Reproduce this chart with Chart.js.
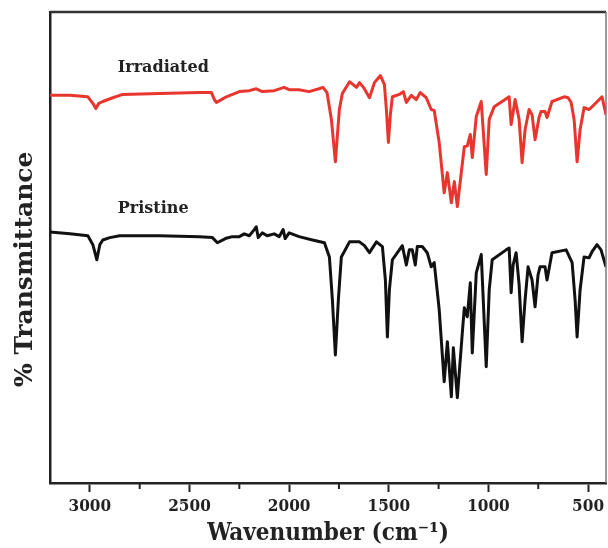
<!DOCTYPE html>
<html>
<head>
<meta charset="utf-8">
<script src="https://cdn.jsdelivr.net/npm/chart.js@4"></script>
<style>
  body { margin: 0; background: #fff; }
  #wrap { width: 608px; height: 548px; }
</style>
</head>
<body>
<div id="wrap"><canvas id="myChart" width="608" height="548"></canvas></div>
<script>
'use strict';

// wavenumbers (cm-1) and % transmittance
const irrWave = [3200, 3100, 3010, 2985, 2970, 2955, 2935, 2885, 2835, 2650, 2450, 2390, 2375, 2365, 2340, 2315,
  2250, 2200, 2165, 2135, 2075, 2025, 2000, 1950, 1900, 1850, 1830, 1810, 1788, 1768, 1748, 1733,
  1697, 1662, 1647, 1627, 1597, 1572, 1542, 1522, 1512, 1502, 1492, 1482, 1447, 1427, 1412, 1387,
  1362, 1342, 1312, 1287, 1272, 1247, 1222, 1206, 1186, 1171, 1156, 1121, 1106, 1091, 1081, 1061,
  1036, 1011, 996, 971, 911, 896, 886, 866, 846, 831, 816, 796, 781, 766, 746, 736,
  716, 706, 681, 620, 600, 585, 570, 555, 540, 520, 495, 470, 430, 410];
const irrT = [82.3, 82.3, 82.0, 80.6, 79.5, 80.6, 81.0, 81.8, 82.5, 82.7, 82.9, 82.9, 81.4, 80.8, 81.4, 82.0,
  83.1, 83.3, 83.7, 83.1, 83.3, 84.0, 83.5, 83.5, 83.1, 83.7, 84.0, 82.9, 77.2, 68.2, 79.3, 82.7,
  85.2, 84.0, 85.0, 84.0, 81.8, 85.0, 86.5, 84.6, 79.3, 72.3, 78.2, 82.0, 82.5, 83.1, 80.8, 82.3,
  81.4, 82.9, 81.8, 79.3, 79.1, 72.3, 61.6, 65.9, 59.5, 64.0, 58.7, 71.4, 71.6, 74.0, 69.1, 77.8,
  81.0, 65.5, 77.2, 79.9, 81.6, 82.0, 76.1, 81.4, 77.2, 68.0, 75.0, 79.3, 78.2, 72.9, 77.6, 78.9,
  78.9, 77.6, 81.0, 82.0, 81.8, 80.8, 77.2, 68.2, 75.0, 79.7, 79.3, 80.3, 82.0, 78.2];

const priWave = [3200, 3100, 3010, 2985, 2965, 2950, 2935, 2900, 2850, 2650, 2450, 2385, 2360, 2320, 2285, 2250,
  2225, 2200, 2175, 2165, 2155, 2135, 2110, 2075, 2050, 2030, 2020, 2000, 1950, 1883, 1823, 1798,
  1783, 1768, 1753, 1738, 1697, 1647, 1622, 1597, 1562, 1532, 1517, 1507, 1497, 1482, 1447, 1432,
  1412, 1397, 1382, 1367, 1357, 1332, 1307, 1287, 1272, 1247, 1222, 1206, 1186, 1176, 1156, 1131,
  1121, 1106, 1091, 1081, 1061, 1036, 1011, 996, 981, 911, 896, 886, 876, 861, 846, 831,
  816, 801, 781, 766, 751, 741, 716, 706, 681, 610, 580, 565, 555, 540, 520, 495,
  480, 455, 435, 410];
const priT = [53.3, 52.9, 52.5, 50.6, 47.4, 50.6, 51.6, 52.1, 52.5, 52.5, 52.3, 52.1, 51.0, 51.9, 52.3, 52.3,
  52.9, 52.5, 53.8, 54.4, 52.1, 53.1, 52.5, 52.9, 52.3, 53.8, 51.9, 53.1, 52.3, 51.6, 51.0, 48.0,
  38.9, 27.2, 38.9, 48.0, 51.2, 51.2, 50.4, 48.9, 51.2, 50.2, 43.1, 31.0, 41.0, 47.4, 49.5, 50.4,
  46.3, 49.5, 49.5, 46.3, 50.2, 50.2, 48.9, 45.9, 46.8, 36.8, 21.5, 30.0, 18.3, 28.7, 18.1, 31.9,
  37.2, 35.3, 42.5, 27.6, 44.6, 48.5, 24.7, 41.0, 47.4, 49.5, 49.9, 40.4, 46.3, 48.9, 42.1, 30.0,
  38.9, 45.9, 43.1, 37.4, 44.2, 45.9, 45.9, 43.1, 48.9, 49.5, 46.8, 38.9, 31.0, 41.0, 48.0, 47.8,
  49.1, 50.6, 49.5, 45.9];

// x ticks every 250, labels only on the 500s
const xTickValues = [500, 750, 1000, 1250, 1500, 1750, 2000, 2250, 2500, 2750, 3000];
const xLabelEvery = 500;

// curve labels: [text, wavenumber, transmittance]
const curveLabels = [['Irradiated', 2860, 88.2], ['Pristine', 2860, 58.2]];

const serif = '"DejaVu Serif", serif';
const serifNarrow = '"DejaVu Serif Condensed", "DejaVu Serif", serif';

const toPoints = (xs, ys) => xs.map((x, i) => ({x: x, y: ys[i]}));
const isMajor = v => v % xLabelEvery === 0;

// box on top/right, short minor ticks and curve names
const extras = {
  id: 'extras',
  afterDraw(chart) {
    const {ctx, chartArea: a, scales} = chart;
    ctx.save();
    ctx.strokeStyle = '#333';
    ctx.lineWidth = 2.5;
    ctx.beginPath();
    ctx.moveTo(a.left, a.top);
    ctx.lineTo(a.right, a.top);
    ctx.stroke();
    ctx.strokeStyle = '#777';
    ctx.lineWidth = 1.5;
    ctx.beginPath();
    ctx.moveTo(a.right, a.top);
    ctx.lineTo(a.right, a.bottom);
    ctx.stroke();

    ctx.strokeStyle = '#222';
    ctx.lineWidth = 2;
    scales.x.ticks.forEach(t => {
      if (isMajor(t.value)) return;
      const px = scales.x.getPixelForValue(t.value);
      ctx.beginPath();
      ctx.moveTo(px, a.bottom);
      ctx.lineTo(px, a.bottom + 6);
      ctx.stroke();
    });

    ctx.fillStyle = '#222';
    ctx.font = 'bold 16px ' + serif;
    ctx.textBaseline = 'middle';
    curveLabels.forEach(l => {
      ctx.fillText(l[0], scales.x.getPixelForValue(l[1]), scales.y.getPixelForValue(l[2]));
    });
    ctx.restore();
  }
};

const ctx = document.getElementById('myChart');
const myChart = new Chart(ctx, {
  type: 'line',
  data: {
    datasets: [{
      label: 'Irradiated',
      data: toPoints(irrWave, irrT),
      borderColor: '#e8362f',
      borderWidth: 3,
      pointRadius: 0,
      tension: 0,
      borderJoinStyle: 'round'
    }, {
      label: 'Pristine',
      data: toPoints(priWave, priT),
      borderColor: '#111',
      borderWidth: 3,
      pointRadius: 0,
      tension: 0,
      borderJoinStyle: 'round'
    }]
  },
  options: {
    responsive: false,
    animation: false,
    layout: { padding: { top: 12, right: 2, left: 0, bottom: 0 } },
    plugins: { legend: { display: false }, tooltip: { enabled: false } },
    scales: {
      x: {
        type: 'linear',
        reverse: true,
        min: 410,
        max: 3200,
        // chart.js spreads the steps evenly between min and max, so set them by hand
        afterBuildTicks: scale => {
          scale.ticks = xTickValues.map(v => ({value: v}));
        },
        afterFit: scale => { scale.height = 65; },
        border: { color: '#222', width: 2.5 },
        grid: {
          drawOnChartArea: false,
          drawTicks: true,
          tickLength: 9,
          tickWidth: 2,
          tickColor: c => (c.tick && isMajor(c.tick.value)) ? '#222' : 'rgba(0,0,0,0)'
        },
        ticks: {
          autoSkip: false,
          maxRotation: 0,
          padding: 4,
          color: '#222',
          font: { family: serifNarrow, size: 17, weight: 'bold' },
          callback: v => isMajor(v) ? v : ''
        },
        title: {
          display: true,
          text: 'Wavenumber (cm⁻¹)',
          color: '#222',
          padding: { top: 0, bottom: 0 },
          font: { family: serifNarrow, size: 24, weight: 'bold' }
        }
      },
      y: {
        min: 0,
        max: 100,
        afterFit: scale => { scale.width = 50; },
        border: { color: '#222', width: 2.5 },
        grid: { drawOnChartArea: false, drawTicks: false },
        ticks: { display: false },
        title: {
          display: true,
          text: '% Transmittance     ',
          color: '#222',
          padding: { top: 10, bottom: 0 },
          font: { family: serif, size: 25, weight: 'bold' }
        }
      }
    }
  },
  plugins: [extras]
});
</script>
</body>
</html>
